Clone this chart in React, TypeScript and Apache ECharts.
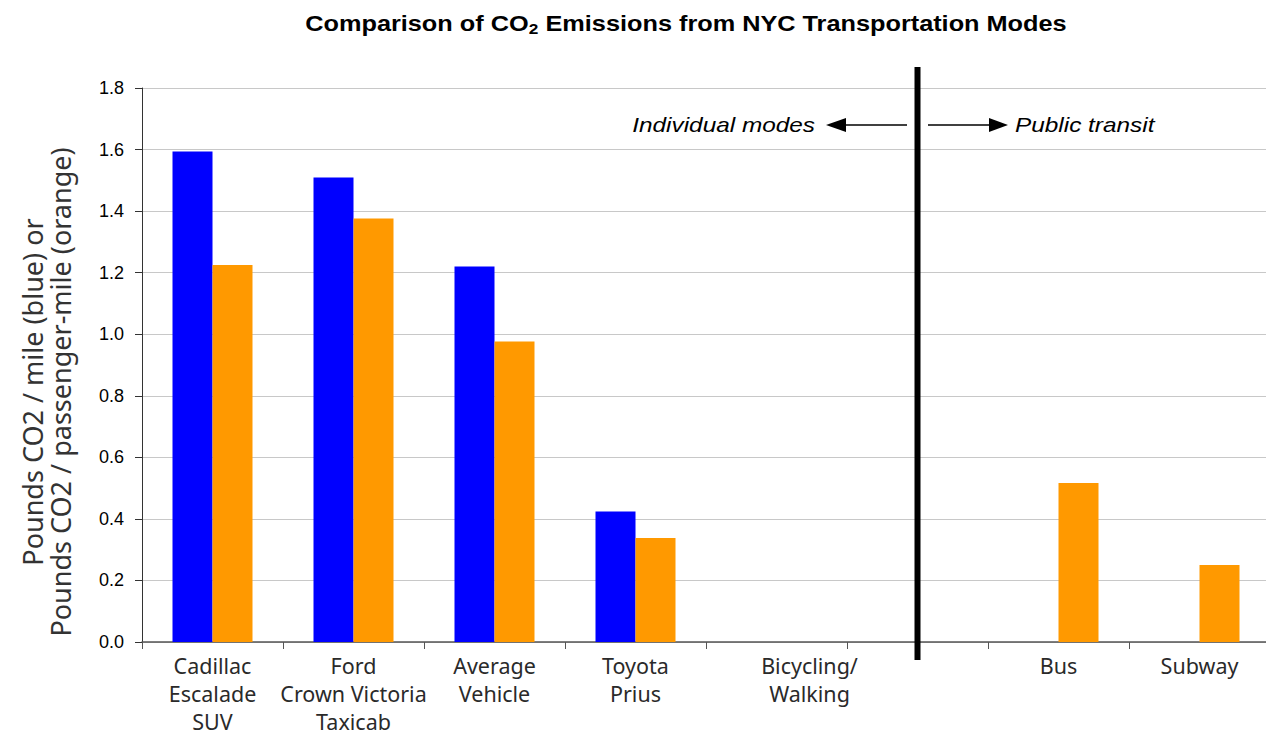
import React, { useEffect, useRef } from "react";
import * as echarts from "echarts";

const categories = [
  "Cadillac\nEscalade\nSUV",
  "Ford\nCrown Victoria\nTaxicab",
  "Average\nVehicle",
  "Toyota\nPrius",
  "Bicycling/\nWalking",
  "",
  "Bus",
  "Subway",
];
const perMile = [1.594, 1.509, 1.22, 0.424, null, null, null, null];
const perPassengerMile = [1.225, 1.376, 0.976, 0.338, null, null, 0.517, 0.25];
const yTicks = { min: 0, max: 1.8, interval: 0.2 };
const dividerIndex = 5;

export default function App() {
  const ref = useRef<HTMLDivElement>(null);
  useEffect(() => {
    if (!ref.current) return;
    const chart = echarts.init(ref.current, null, { renderer: "svg" });
    const catData = categories.map((c, i) =>
      i === 4 ? { value: c, textStyle: { padding: [0, 0, 0, 66] } } : c
    );
    chart.setOption({
      animation: false,
      backgroundColor: "#ffffff",
      grid: { left: 142, top: 88, width: 1128, height: 554, outerBoundsMode: "none", containLabel: false },
      xAxis: {
        type: "category",
        data: catData,
        axisLine: { lineStyle: { color: "#555", width: 1.5 } },
        axisTick: { show: true, length: 7, lineStyle: { color: "#555" } },
        axisLabel: {
          interval: 0,
          margin: 9,
          fontFamily: "Noto Sans",
          fontSize: 21.5,
          lineHeight: 28,
          color: "#2a2a2a",
        },
      },
      yAxis: {
        type: "value",
        min: yTicks.min,
        max: yTicks.max,
        interval: yTicks.interval,
        axisLine: { show: true, lineStyle: { color: "#333", width: 1 } },
        axisTick: { show: true, inside: false, length: 7, lineStyle: { color: "#333" } },
        splitLine: { lineStyle: { color: "#c8c8c8", width: 1 } },
        axisLabel: {
          margin: 18,
          fontFamily: "Liberation Sans",
          fontSize: 18,
          color: "#000",
          formatter: (v: number) => v.toFixed(1),
        },
      },
      series: [
        {
          type: "bar",
          name: "per mile",
          data: perMile,
          barWidth: 40,
          barGap: "0%",
          itemStyle: { color: "#0000ff" },
        },
        {
          type: "bar",
          name: "per passenger-mile",
          data: perPassengerMile,
          barWidth: 40,
          barGap: "0%",
          itemStyle: { color: "#ff9900" },
        },
        {
          type: "custom",
          name: "divider",
          silent: true,
          clip: false,
          data: [[dividerIndex, 0]],
          renderItem: (params: any, api: any) => {
            const top = api.coord([api.value(0), yTicks.max]);
            const bottom = api.coord([api.value(0), yTicks.min]);
            return {
              type: "line",
              shape: { x1: top[0], y1: top[1] - 21, x2: bottom[0], y2: bottom[1] + 18 },
              style: { stroke: "#000", lineWidth: 6 },
            };
          },
          z: 5,
        },
      ],
      graphic: [
        {
          type: "text",
          x: 686,
          y: 24,
          scaleX: 1.15,
          style: {
            text: "{t|Comparison of CO}{s|2}{t| Emissions from NYC Transportation Modes}",
            align: "center",
            verticalAlign: "middle",
            rich: {
              t: { fontFamily: "Liberation Sans", fontWeight: "bold", fontSize: 22, fill: "#000" },
              s: { fontFamily: "Liberation Sans", fontWeight: "bold", fontSize: 15, fill: "#000", padding: [9, 0, 0, 0] },
            },
          },
        },
        {
          type: "text",
          x: 46,
          y: 392,
          rotation: Math.PI / 2,
          style: {
            text: "Pounds CO2 / mile (blue) or\nPounds CO2 / passenger-mile (orange)",
            fontFamily: "Noto Sans",
            fontSize: 27,
            lineHeight: 28,
            fill: "#333",
            align: "center",
            verticalAlign: "middle",
          },
        },
        {
          type: "text",
          x: 815,
          y: 125,
          scaleX: 1.16,
          style: {
            text: "Individual modes",
            fontFamily: "Liberation Sans",
            fontStyle: "italic",
            fontSize: 21,
            fill: "#000",
            align: "right",
            verticalAlign: "middle",
          },
        },
        {
          type: "text",
          x: 1015,
          y: 125,
          scaleX: 1.16,
          style: {
            text: "Public transit",
            fontFamily: "Liberation Sans",
            fontStyle: "italic",
            fontSize: 21,
            fill: "#000",
            align: "left",
            verticalAlign: "middle",
          },
        },
        { type: "line", shape: { x1: 843, y1: 125, x2: 907, y2: 125 }, style: { stroke: "#000", lineWidth: 1.5 } },
        { type: "polygon", shape: { points: [[826, 125], [846, 118], [846, 132]] }, style: { fill: "#000" } },
        { type: "line", shape: { x1: 928, y1: 125, x2: 991, y2: 125 }, style: { stroke: "#000", lineWidth: 1.5 } },
        { type: "polygon", shape: { points: [[1008, 125], [989, 118], [989, 132]] }, style: { fill: "#000" } },
      ],
    });
    return () => chart.dispose();
  }, []);
  return (
    <div
      ref={ref}
      style={{ position: "fixed", left: 0, top: 0, width: 1266, height: 738 }}
    />
  );
}
